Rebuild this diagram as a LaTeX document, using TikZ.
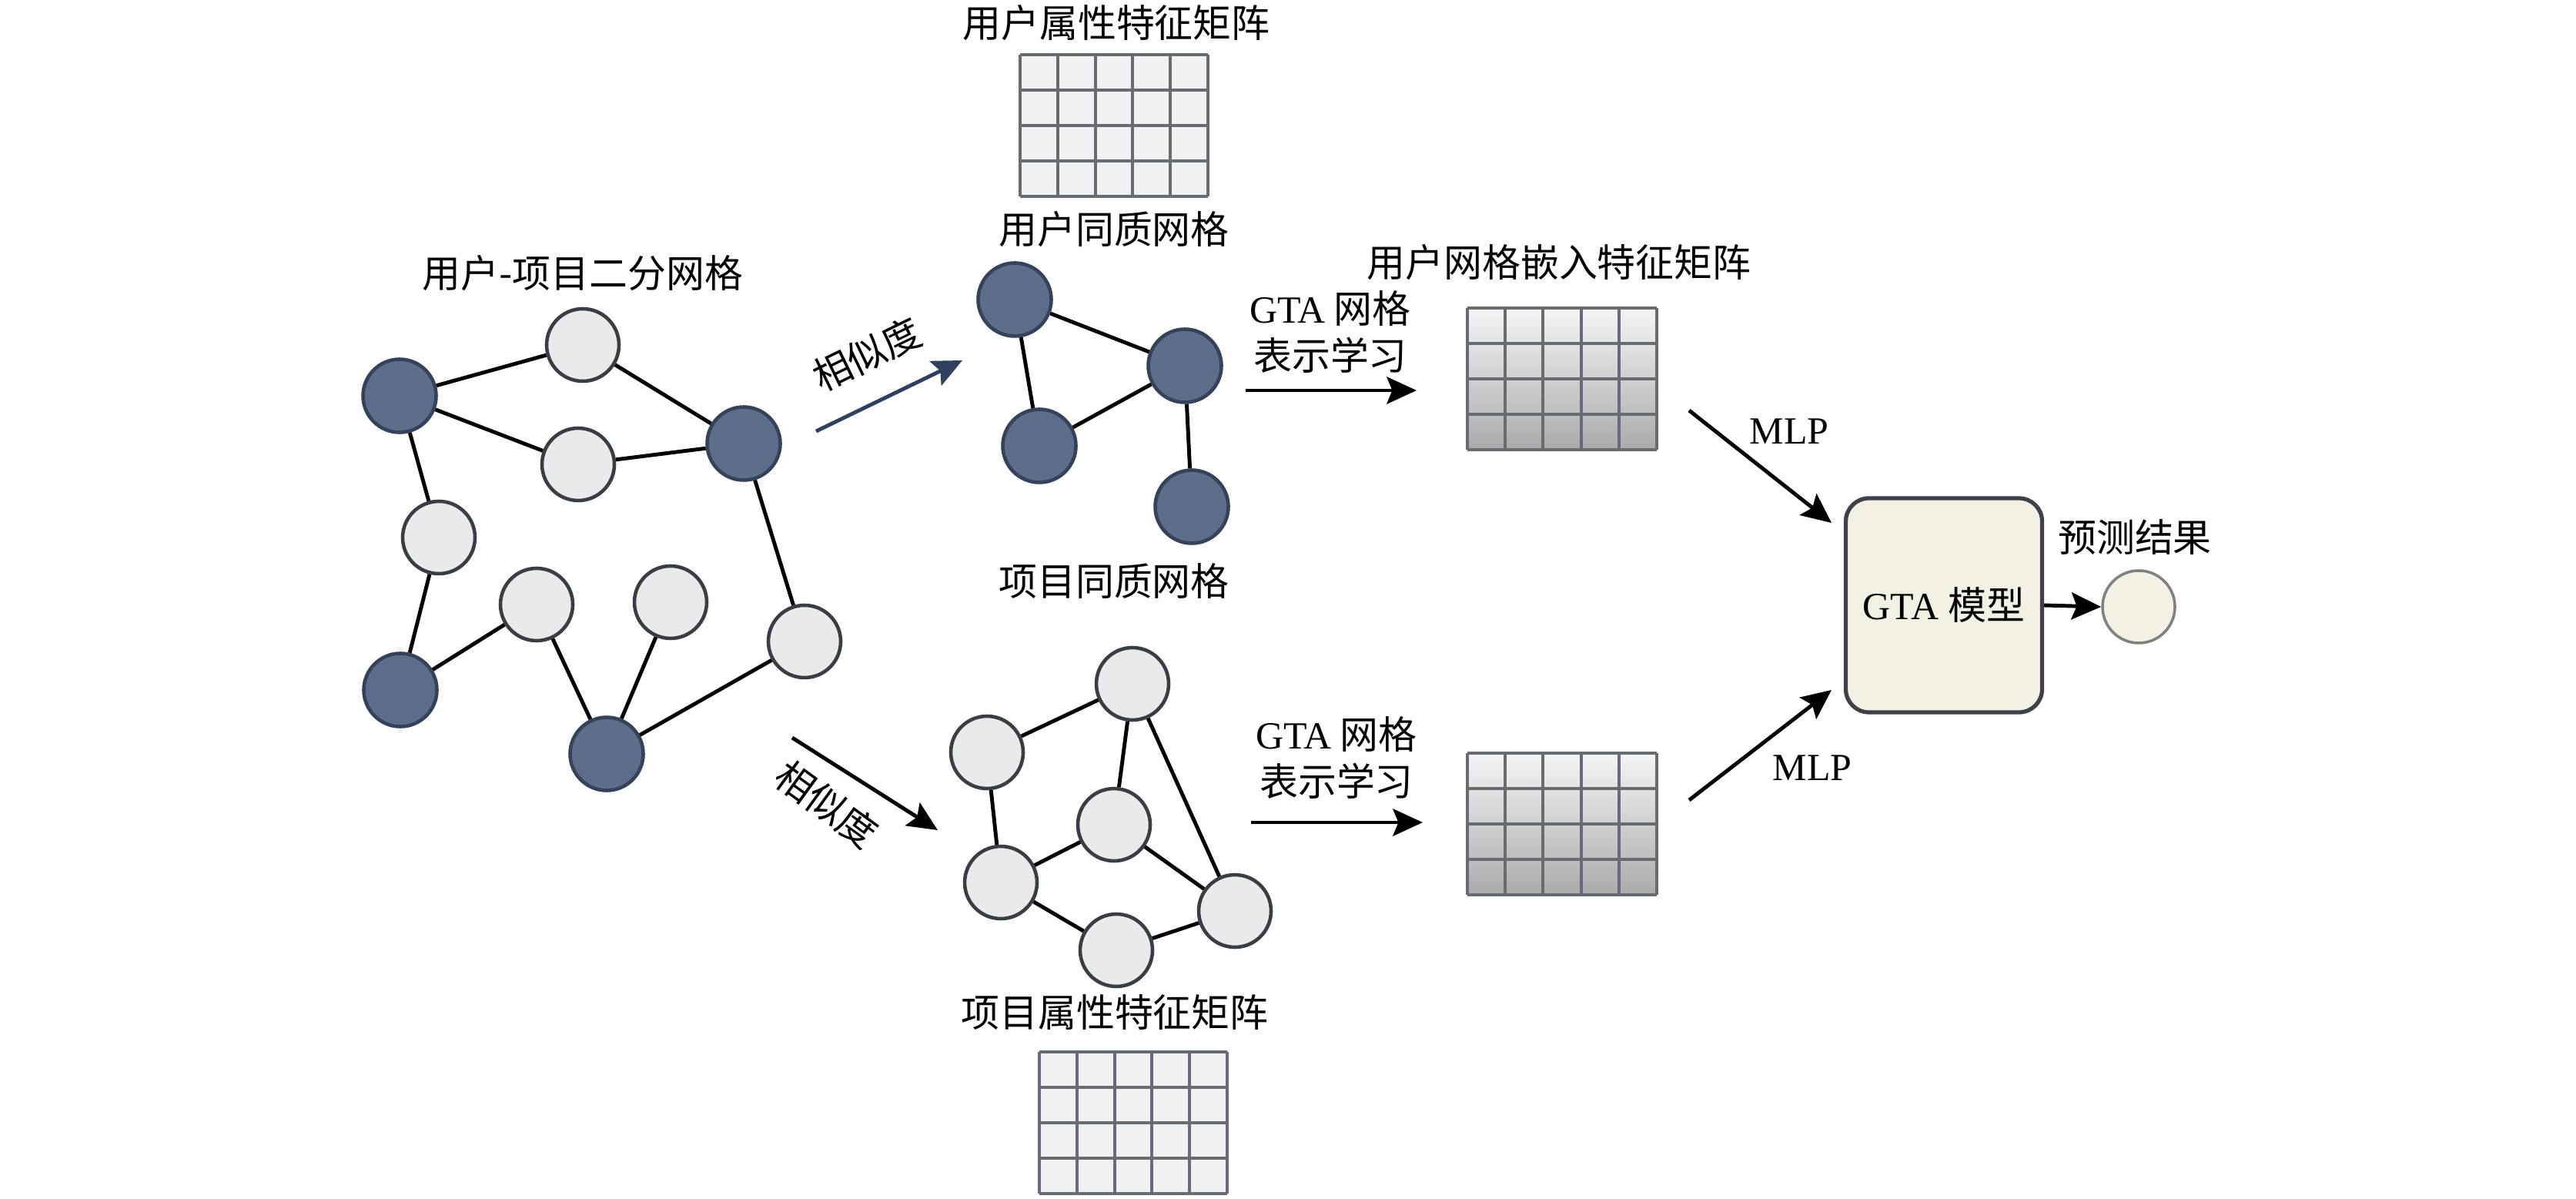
\documentclass[tikz,border=0pt]{standalone}
\usepackage{fontspec}
\setmainfont{Liberation Serif}
\newfontfamily\cjk{Noto Sans CJK SC}
\usetikzlibrary{arrows.meta,calc}

\definecolor{darknode}{RGB}{92,110,137}
\definecolor{darkrim}{RGB}{52,66,90}
\definecolor{lightnode}{RGB}{235,234,234}
\definecolor{lightrim}{RGB}{58,61,70}
\definecolor{gridline}{RGB}{104,107,113}
\definecolor{cellfill}{RGB}{241,241,241}
\definecolor{cream}{RGB}{243,240,228}
\definecolor{boxrim}{RGB}{62,65,73}
\definecolor{simblue}{RGB}{47,65,95}

\def\fs{\fontsize{14.2}{17.3}\selectfont}

\tikzset{
  user/.style={circle, draw=darkrim, fill=darknode, line width=1.3pt, minimum size=0.95cm, inner sep=0pt},
  item/.style={circle, draw=lightrim, fill=lightnode, line width=1.3pt, minimum size=0.94cm, inner sep=0pt},
  link/.style={line width=1.4pt},
  arr/.style={line width=1.4pt, -{Stealth[length=11pt,width=10pt,inset=2pt]}},
  attrmat/.style={rectangle, fill=cellfill, minimum width=2.42cm, minimum height=1.83cm, inner sep=0pt},
  embmat/.style={rectangle, top color=gray!8, bottom color=gray!66, minimum width=2.45cm, minimum height=1.82cm, inner sep=0pt},
  lbl/.style={font=\fs\cjk, inner sep=1pt}
}

\newcommand\matcells[1]{%
  \foreach \i in {0,...,5}
    \draw[gridline, line width=1.2pt] ($(#1.north west)!\i/5!(#1.north east)$) -- ($(#1.south west)!\i/5!(#1.south east)$);
  \foreach \j in {0,...,4}
    \draw[gridline, line width=1.2pt] ($(#1.north west)!\j/4!(#1.south west)$) -- ($(#1.north east)!\j/4!(#1.south east)$);
}

\begin{document}
\begin{tikzpicture}[x=1cm, y=-1cm, font=\fs]
  \useasboundingbox (0,0) rectangle (33.46,15.57);

  \node[lbl] (bipt) at (7.57,3.55) {用户-项目二分网格};
  \node[user] (d1) at (5.19,5.14) {};
  \node[item] (l1) at (7.57,4.48) {};
  \node[item] (l2) at (7.51,6.03) {};
  \node[user] (d2) at (9.66,5.76) {};
  \node[item] (l3) at (5.70,6.98) {};
  \node[item] (l4) at (6.97,7.85) {};
  \node[item] (l5) at (8.71,7.82) {};
  \node[item] (l6) at (10.45,8.33) {};
  \node[user] (d3) at (5.20,8.96) {};
  \node[user] (d4) at (7.88,9.79) {};
  \foreach \a/\b in {d1/l1, l1/d2, d1/l2, l2/d2, d1/l3, l3/d3, d3/l4, l4/d4, l5/d4, d4/l6, l6/d2}
    \draw[link] (\a) -- (\b);

  \node[lbl] (uattrt) at (14.50,0.30) {用户属性特征矩阵};
  \node[attrmat] (uattr) at (14.47,1.63) {};
  \matcells{uattr}
  \node[lbl] (uhomt) at (14.47,2.98) {用户同质网格};
  \node[user] (u1) at (13.18,3.89) {};
  \node[user] (u2) at (15.39,4.75) {};
  \node[user] (u3) at (13.50,5.79) {};
  \node[user] (u4) at (15.48,6.58) {};
  \foreach \a/\b in {u1/u2, u1/u3, u3/u2, u2/u4}
    \draw[link] (\a) -- (\b);
  \node[lbl] (ihomt) at (14.47,7.55) {项目同质网格};

  \node[item] (i1) at (14.71,8.88) {};
  \node[item] (i2) at (12.82,9.77) {};
  \node[item] (i3) at (14.47,10.71) {};
  \node[item] (i4) at (13.00,11.46) {};
  \node[item] (i5) at (14.50,12.34) {};
  \node[item] (i6) at (16.04,11.83) {};
  \foreach \a/\b in {i1/i2, i1/i3, i1/i6, i2/i4, i4/i3, i3/i6, i4/i5, i5/i6}
    \draw[link] (\a) -- (\b);
  \node[lbl] (iattrt) at (14.48,13.15) {项目属性特征矩阵};
  \node[attrmat] (iattr) at (14.72,14.58) {};
  \matcells{iattr}

  \coordinate (s1s) at (10.60,5.60);
  \coordinate (s1e) at (12.50,4.68);
  \draw[arr, simblue] (s1s) -- (s1e);
  \node[lbl, rotate=26] (sim1) at (11.26,4.60) {相似度};
  \coordinate (s2s) at (10.29,9.58);
  \coordinate (s2e) at (12.18,10.78);
  \draw[arr] (s2s) -- (s2e);
  \node[lbl, rotate=-36] (sim2) at (10.74,10.44) {相似度};

  \node[lbl, align=center] (gta1) at (17.28,4.31) {{\rmfamily GTA} 网格\\表示学习};
  \coordinate (g1s) at (16.18,5.07);
  \coordinate (g1e) at (18.40,5.07);
  \draw[arr] (g1s) -- (g1e);
  \node[lbl, align=center] (gta2) at (17.36,9.84) {{\rmfamily GTA} 网格\\表示学习};
  \coordinate (g2s) at (16.25,10.68);
  \coordinate (g2e) at (18.48,10.68);
  \draw[arr] (g2s) -- (g2e);

  \node[lbl] (uembt) at (20.25,3.41) {用户网格嵌入特征矩阵};
  \node[embmat] (uemb) at (20.29,4.92) {};
  \matcells{uemb}
  \node[embmat] (iemb) at (20.29,10.70) {};
  \matcells{iemb}

  \node[rectangle, rounded corners=0.3cm, draw=boxrim, fill=cream, line width=1.5pt,
        minimum width=2.55cm, minimum height=2.78cm] (gta) at (25.25,7.86) {GTA {\cjk 模型}};
  \coordinate (m1s) at (21.94,5.33);
  \coordinate (m1e) at (23.79,6.79);
  \draw[arr] (m1s) -- (m1e);
  \node (mlp1) at (23.24,5.60) {MLP};
  \coordinate (m2s) at (21.94,10.39);
  \coordinate (m2e) at (23.79,8.96);
  \draw[arr] (m2s) -- (m2e);
  \node (mlp2) at (23.54,9.97) {MLP};

  \node[circle, draw=gray, fill=cream, line width=1pt, minimum size=0.94cm, inner sep=0pt] (res) at (27.78,7.88) {};
  \node[lbl] (rest) at (27.73,6.98) {预测结果};
  \draw[arr] (gta.east) -- (res.west);
\end{tikzpicture}
\end{document}
